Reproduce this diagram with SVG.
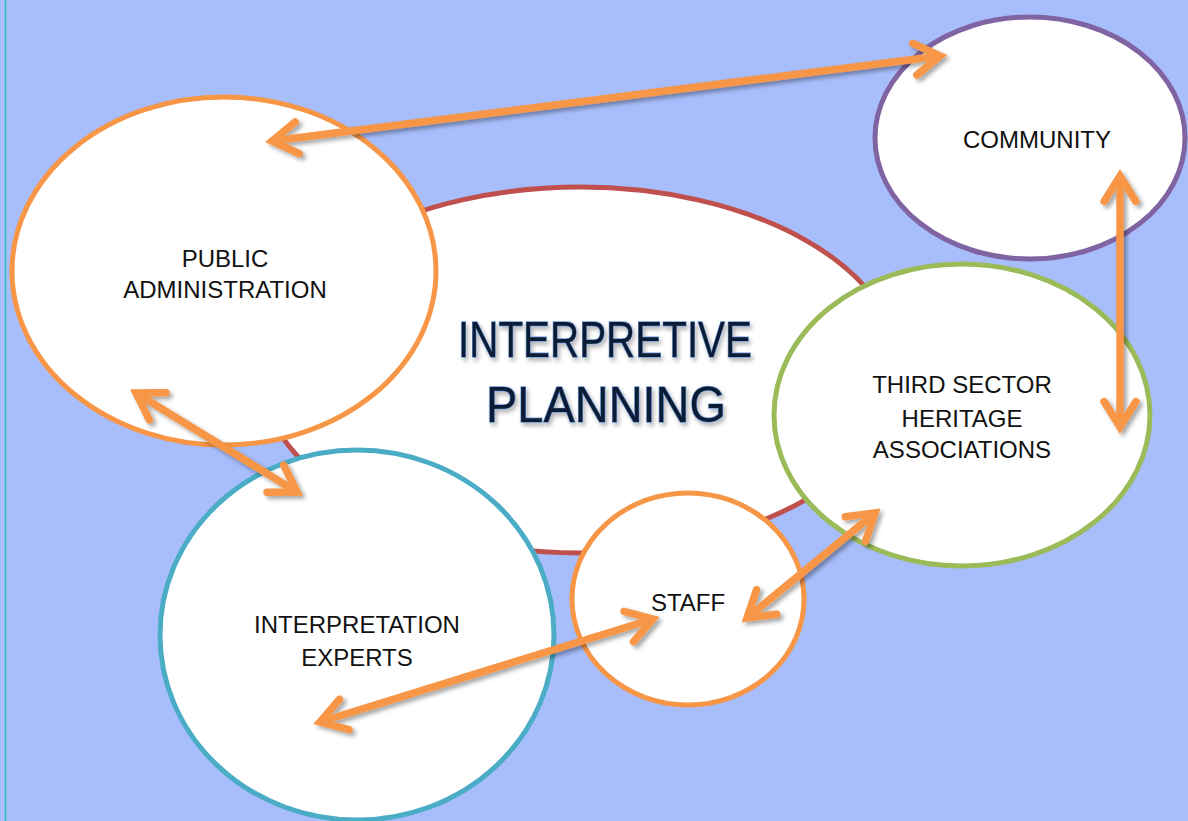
<svg xmlns="http://www.w3.org/2000/svg" width="1188" height="821" viewBox="0 0 1188 821">
  <style>
    .node { fill: #ffffff; stroke-width: 5; }
    .label { font-family: "Liberation Sans", Arial, sans-serif; font-size: 24px; fill: #111111; text-anchor: middle; }
    .title { font-family: "Liberation Sans", Arial, sans-serif; font-size: 50px; fill: #0e1c36; stroke: #6f9ad8; stroke-width: 1.4; paint-order: stroke; text-anchor: middle; }
    .link { fill: none; stroke: #f79646; stroke-width: 7.5; stroke-linecap: butt; marker-start: url(#head); marker-end: url(#head); }
  </style>
  <defs>
    <!-- open chevron arrowhead, used at both ends of every connector -->
    <marker id="head" markerUnits="userSpaceOnUse" orient="auto-start-reverse" refX="0" refY="0" markerWidth="80" markerHeight="80" viewBox="-40 -40 80 80" overflow="visible">
      <path d="M-25.4,-15.9 L0,0 L-25.4,15.9" fill="none" stroke="#f79646" stroke-width="7.5" stroke-linecap="round" stroke-linejoin="miter" stroke-miterlimit="10"/>
    </marker>
    <filter id="shadow" x="-10%" y="-10%" width="120%" height="120%">
      <feDropShadow dx="3" dy="3" stdDeviation="2" flood-color="#000000" flood-opacity="0.35"/>
    </filter>
    <filter id="glow" x="-10%" y="-20%" width="120%" height="140%">
      <feDropShadow dx="2" dy="3" stdDeviation="2" flood-color="#000000" flood-opacity="0.3"/>
    </filter>
  </defs>

  <!-- background -->
  <rect x="0" y="0" width="1188" height="821" fill="#a8befc"/>
  <line x1="5.5" y1="0" x2="5.5" y2="821" stroke="#2cc0b4" stroke-width="1.5"/>

  <!-- central theme -->
  <g id="interpretive-planning">
    <ellipse class="node" cx="580" cy="370" rx="320" ry="183" stroke="#c0504d"/>
  </g>

  <g id="public-administration">
    <ellipse class="node" cx="224" cy="271" rx="212" ry="174" stroke="#f79646"/>
    <text class="label" x="225" y="267">PUBLIC</text>
    <text class="label" x="225" y="298">ADMINISTRATION</text>
  </g>

  <g id="interpretation-experts">
    <ellipse class="node" cx="357" cy="635" rx="197" ry="185" stroke="#4bacc6"/>
    <text class="label" x="357" y="633">INTERPRETATION</text>
    <text class="label" x="357" y="666">EXPERTS</text>
  </g>

  <g id="staff">
    <ellipse class="node" cx="688" cy="599" rx="116" ry="106" stroke="#f79646"/>
    <text class="label" x="688" y="611">STAFF</text>
  </g>

  <g id="third-sector">
    <ellipse class="node" cx="962" cy="415" rx="188" ry="151" stroke="#9bbb59"/>
    <text class="label" x="962" y="393">THIRD SECTOR</text>
    <text class="label" x="962" y="427">HERITAGE</text>
    <text class="label" x="962" y="458">ASSOCIATIONS</text>
  </g>

  <g id="community">
    <ellipse class="node" cx="1030" cy="138" rx="155" ry="121" stroke="#8064a2"/>
    <text class="label" x="1037" y="148">COMMUNITY</text>
  </g>

  <!-- title of the central theme -->
  <g id="title" filter="url(#glow)">
    <text class="title" x="605" y="357" textLength="294" lengthAdjust="spacingAndGlyphs">INTERPRETIVE</text>
    <text class="title" x="606" y="422" textLength="240" lengthAdjust="spacingAndGlyphs">PLANNING</text>
  </g>

  <!-- two-way connectors -->
  <g id="connectors" filter="url(#shadow)">
    <line class="link" x1="272" y1="141" x2="940" y2="56"/>
    <line class="link" x1="136" y1="393" x2="297" y2="492"/>
    <line class="link" x1="320" y1="722" x2="653" y2="619"/>
    <line class="link" x1="747" y1="618" x2="875" y2="513"/>
    <line class="link" x1="1120" y1="176" x2="1120" y2="427"/>
  </g>
</svg>
